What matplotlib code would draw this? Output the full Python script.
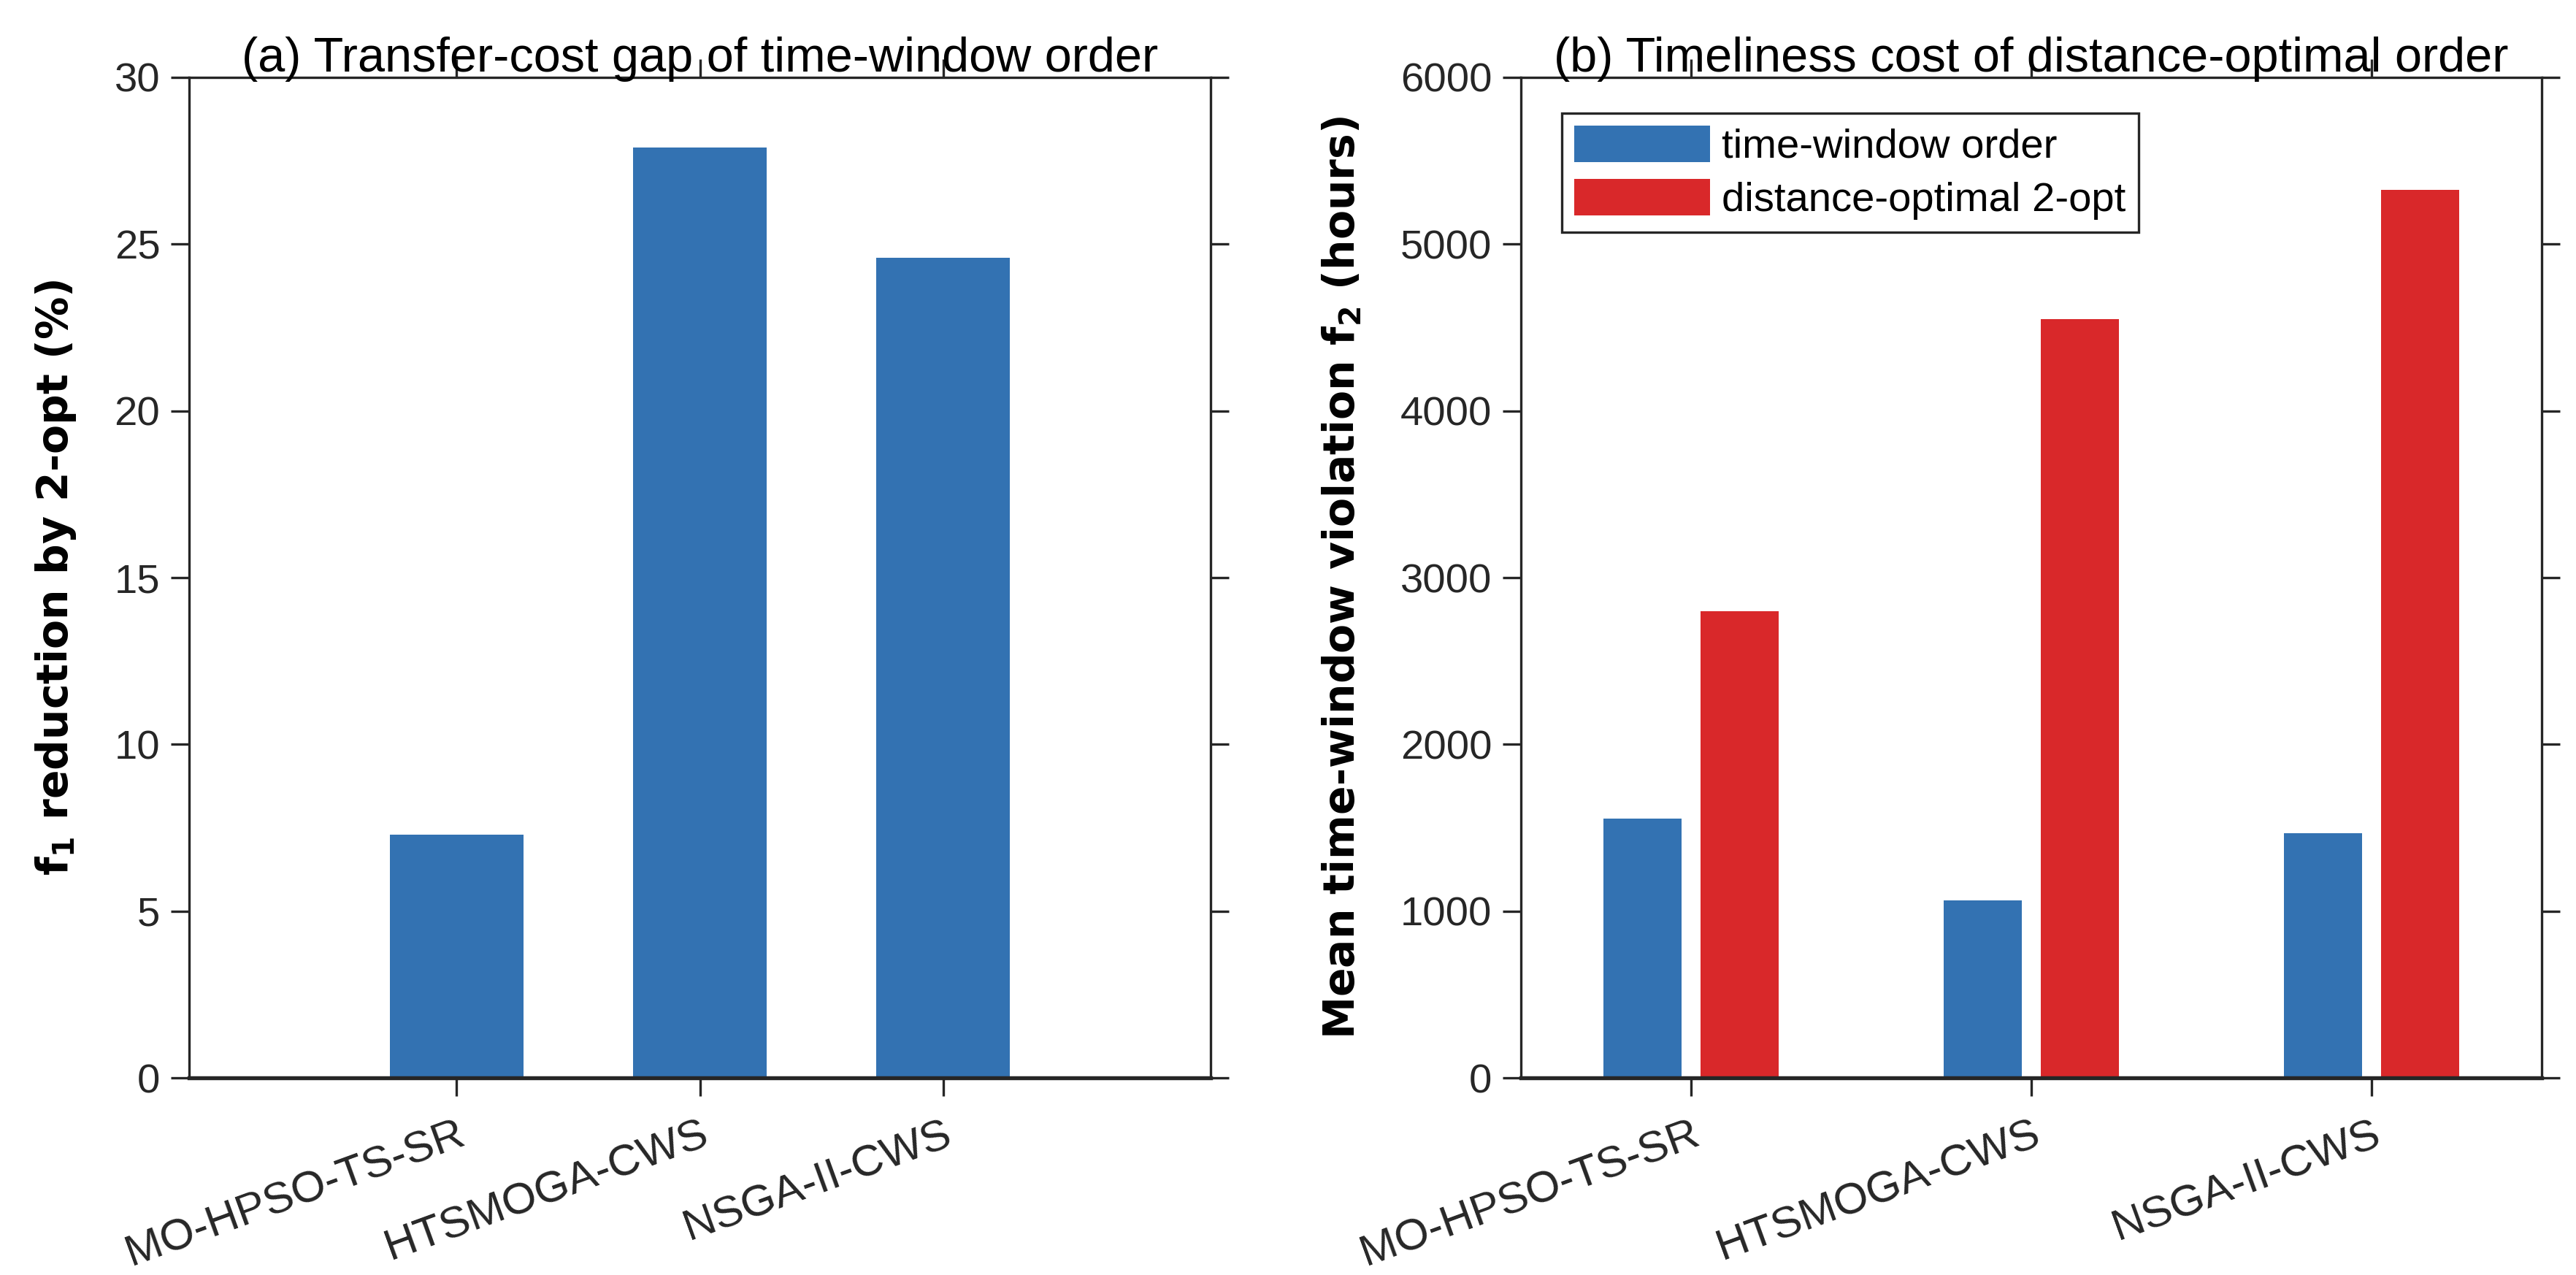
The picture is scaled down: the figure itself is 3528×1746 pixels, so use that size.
import numpy as np
import matplotlib
matplotlib.use('Agg')
import matplotlib.pyplot as plt

methods = ['MO-HPSO-TS-SR', 'HTSMOGA-CWS', 'NSGA-II-CWS']
f1_reduction = [7.3, 27.9, 24.6]
f2_time_window = [1555, 1065, 1468]
f2_distance_opt = [2800, 4552, 5325]

blue = '#3372B2'
red = '#D9282A'
dark = '#262626'

plt.rcParams['font.family'] = ['Liberation Sans', 'DejaVu Sans']
plt.rcParams['mathtext.default'] = 'regular'

fig = plt.figure(figsize=(11.76, 5.82), dpi=300)
ax1 = fig.add_axes([0.0734, 0.1546, 0.3966, 0.7847])
ax2 = fig.add_axes([0.5904, 0.1546, 0.3963, 0.7847])

x = np.arange(1, len(methods) + 1)

# (a) single series
ax1.bar(x, f1_reduction, width=0.55, color=blue)
ax1.set_xlim(-0.1, 4.1)
ax1.set_ylim(0, 30)
ax1.set_yticks(np.arange(0, 31, 5))
ax1.set_title('(a) Transfer-cost gap of time-window order', fontsize=16, pad=2)
ax1.set_ylabel('f$_1$ reduction by 2-opt (%)', fontsize=14, fontweight='bold',
               family='DejaVu Sans', labelpad=12)

# (b) grouped
w = 0.23
ax2.bar(x - 0.143, f2_time_window, width=w, color=blue, label='time-window order')
ax2.bar(x + 0.143, f2_distance_opt, width=w, color=red, label='distance-optimal 2-opt')
ax2.set_xlim(0.5, 3.5)
ax2.set_ylim(0, 6000)
ax2.set_yticks(np.arange(0, 6001, 1000))
ax2.set_title('(b) Timeliness cost of distance-optimal order', fontsize=16, pad=2)
ax2.set_ylabel('Mean time-window violation f$_2$ (hours)', fontsize=14,
               fontweight='bold', family='DejaVu Sans', labelpad=12)
leg = ax2.legend(loc='upper left', bbox_to_anchor=(0.02, 0.985), fontsize=13.5,
                 fancybox=False, framealpha=1, edgecolor=dark,
                 handlelength=3.3, handleheight=1.0, borderpad=0.3,
                 labelspacing=0.3, handletextpad=0.3)
leg.get_frame().set_linewidth(0.8)

for ax in (ax1, ax2):
    ax.set_xticks(x)
    ax.set_xticklabels(methods, rotation=20, ha='right', rotation_mode='anchor')
    ax.tick_params(axis='both', direction='out', length=6, width=0.8,
                   labelsize=13.5, colors=dark, top=True, right=True)
    ax.tick_params(axis='x', labelsize=14.5, pad=6)
    for s in ax.spines.values():
        s.set_color(dark)
        s.set_linewidth(0.8)
    ax.spines['bottom'].set_linewidth(1.3)

fig.savefig('out.png', dpi=300)
